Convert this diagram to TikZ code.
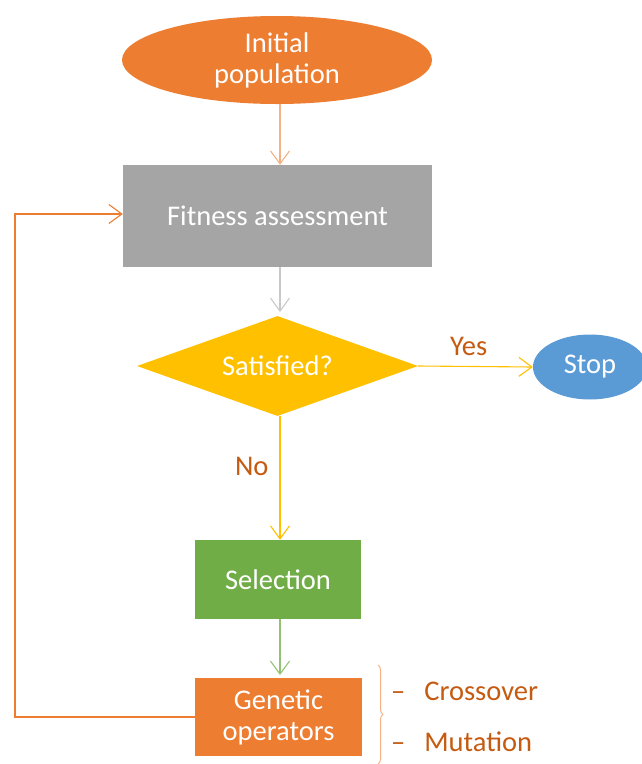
\documentclass[tikz,border=0pt]{standalone}
\usepackage{fontspec}
\setmainfont{Carlito}
\usetikzlibrary{shapes.geometric,arrows.meta,decorations.pathreplacing}
\definecolor{gaorange}{HTML}{ED7D31}
\definecolor{gagray}{HTML}{A5A5A5}
\definecolor{gagold}{HTML}{FFC000}
\definecolor{gagreen}{HTML}{70AD47}
\definecolor{gablue}{HTML}{5B9BD5}
\definecolor{galabel}{HTML}{C55A11}
\definecolor{galight}{HTML}{F4B183}
\tikzset{
  box/.style={draw=none, text=white, font=\fontsize{28.5}{31}\selectfont, align=center, inner sep=0pt},
  lbl/.style={text=galabel, font=\fontsize{28.5}{31}\selectfont, inner sep=0pt},
  arr/.style={-{Straight Barb[length=13pt,width=19pt]}, line width=1.1pt},
}
\begin{document}
\begin{tikzpicture}[x=1pt,y=-1pt]
\useasboundingbox (0,0) rectangle (641,764);
\node[box, ellipse, fill=gaorange, minimum width=310pt, minimum height=88pt] (init) at (277,60) {Initial\\population};
\node[box, rectangle, fill=gagray, minimum width=309pt, minimum height=102pt] (fit) at (277.5,216) {Fitness assessment};
\node[box, diamond, fill=gagold, aspect=2.81, minimum width=281pt, minimum height=100pt] (sat) at (277.5,366) {Satisfied?};
\node[box, ellipse, fill=gablue, minimum width=114pt, minimum height=65pt] (stop) at (590,367) {Stop};
\node[box, rectangle, fill=gagreen, minimum width=166pt, minimum height=79pt] (sel) at (278,579.5) {Selection};
\node[box, rectangle, fill=gaorange, minimum width=167pt, minimum height=78pt] (gen) at (278.5,717) {Genetic\\operators};
\draw[arr, galight] (init.south -| 280,0) -- (fit.north -| 280,0);
\draw[arr, gagray!60] (fit.south -| 280,0) -- (280,312) coordinate (satin);
\draw[arr, gagold] (sat.east) -- (stop.west) node[lbl, pos=0.44, above=10pt] {Yes};
\draw[arr, gagold] (sat.south -| 280,0) -- (sel.north -| 280,0) node[lbl, pos=0.41, left=11pt] {No};
\draw[arr, gagreen!75] (sel.south -| 280,0) -- (280,675) coordinate (genin);
\draw[arr, gaorange] (gen.west) -- (15,717) -- (15,214) -- (fit.west |- 0,214);
\draw[galight, line width=1pt, decorate, decoration={brace, amplitude=5pt, mirror}] (378,764) -- (378,665) coordinate (bracetop);
\node[lbl, anchor=west] (cross) at (391,691) {–\hspace{19pt}Crossover};
\node[lbl, anchor=west] (mut) at (391,742) {–\hspace{19pt}Mutation};
\end{tikzpicture}
\end{document}
